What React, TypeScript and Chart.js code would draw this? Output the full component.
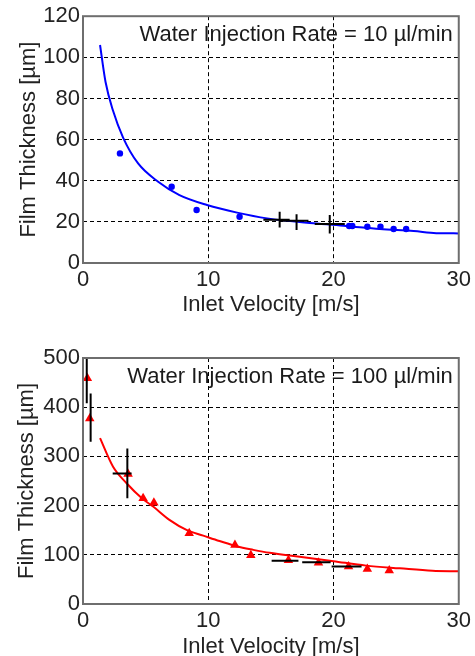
import React, { useEffect, useRef } from "react";
import { Chart, registerables } from "chart.js";
Chart.register(...registerables);

const FONT = "'Liberation Sans', Arial, Helvetica, sans-serif";

// ---------- Top panel: 10 µl/min ----------
const topLabel = "Water Injection Rate = 10 µl/min";
const topPtsX = [2.95, 7.08, 9.07, 12.5, 21.25, 21.5, 22.7, 23.75, 24.8, 25.8];
const topPtsY = [53.3, 37.1, 25.8, 22.5, 18.0, 18.0, 17.6, 17.6, 16.5, 16.5];
const topFitX = [1.36, 1.8, 2.4, 3.2, 4.4, 6.0, 7.7, 9.9, 12.3, 14.7, 18.4, 21.0, 23.7, 26.4, 28.2, 30];
const topFitY = [106, 88, 74, 61, 48.4, 39.5, 33, 28.2, 24.5, 21.7, 19.3, 18, 16.5, 15.5, 14.5, 14.4];
// vertical error bars
const topVX = [15.7, 17.05, 19.7];
const topVLo = [17.3, 16.0, 14.4];
const topVHi = [24.9, 23.7, 23.3];
// horizontal error bars
const topHY = [21, 20.5, 19];
const topHLo = [14.4, 15.7, 18.5];
const topHHi = [16.5, 18.0, 20.9];
const topYMax = 120;
const topYStep = 20;

// ---------- Bottom panel: 100 µl/min ----------
const botLabel = "Water Injection Rate = 100 µl/min";
const botPtsX = [0.35, 0.54, 3.6, 4.8, 5.66, 8.48, 12.13, 13.4, 16.4, 18.8, 21.2, 22.7, 24.45];
const botPtsY = [459, 377, 264, 215, 206, 144, 120, 99, 89, 84, 76, 71, 68];
const botFitX = [1.36, 2.4, 3.5, 4.7, 5.6, 6.9, 8.3, 9.6, 10.9, 12.3, 13.6, 14.9, 17.3, 20, 22.6, 25.3, 27.9, 30];
const botFitY = [337, 279, 245, 215, 198, 171, 150, 139, 128, 117, 110, 104, 96, 87, 78, 72.5, 67.7, 66.5];
const botVX = [0.3, 0.61, 3.54];
const botVLo = [408, 330, 215];
const botVHi = [500, 428, 316];
const botHY = [265, 88, 85, 76];
const botHLo = [2.37, 15.06, 17.5, 19.85];
const botHHi = [3.88, 17.2, 19.77, 22.24];
const botYMax = 500;
const botYStep = 100;

const xMax = 30;
const xStep = 10;

function pairs(xs: number[], ys: number[]) {
  return xs.map((x, i) => ({ x, y: ys[i] }));
}

function errSegments(vx: number[], vlo: number[], vhi: number[], hy: number[], hlo: number[], hhi: number[]) {
  const out: any[] = [];
  vx.forEach((x, i) => {
    out.push({ x, y: vlo[i] }, { x, y: vhi[i] }, { x, y: null });
  });
  hy.forEach((y, i) => {
    out.push({ x: hlo[i], y }, { x: hhi[i], y }, { x: hhi[i], y: null });
  });
  return out;
}

type PanelProps = {
  label: string;
  color: string;
  pointStyle: string;
  pointRadius: number;
  pts: { x: number; y: number }[];
  fit: { x: number; y: number }[];
  err: any[];
  yMax: number;
  yStep: number;
  padTop: number;
  xHeight: number;
  xTitlePad: number;
  xTitleLH: number;
  yTitlePad: number;
  labelOffset: number;
};

function Panel(p: PanelProps) {
  const ref = useRef<HTMLCanvasElement | null>(null);
  useEffect(() => {
    if (!ref.current) return;
    const tickFont = { family: FONT, size: 22, lineHeight: 1.2 };
    const gridColor = (max: number) => (c: any) =>
      c.tick && (c.tick.value === 0 || c.tick.value === max) ? "rgba(0,0,0,0)" : "#000";
    const frame = {
      id: "frame",
      afterDatasetsDraw(chart: any) {
        const { ctx, chartArea: a } = chart;
        ctx.save();
        ctx.strokeStyle = "#6e6e6e";
        ctx.lineWidth = 2;
        ctx.strokeRect(a.left, a.top, a.right - a.left, a.bottom - a.top);
        ctx.font = `22px ${FONT}`;
        ctx.fillStyle = "#1a1a1a";
        ctx.textAlign = "right";
        ctx.textBaseline = "middle";
        ctx.fillText(p.label, a.right - 6, a.top + p.labelOffset);
        ctx.restore();
      },
    };
    const chart = new Chart(ref.current, {
      type: "scatter",
      data: {
        datasets: [
          {
            data: p.err,
            showLine: true,
            spanGaps: false,
            borderColor: "#000",
            borderWidth: 2,
            pointRadius: 0,
          } as any,
          {
            data: p.pts,
            backgroundColor: p.color,
            borderColor: p.color,
            pointStyle: p.pointStyle as any,
            pointRadius: p.pointRadius,
            borderWidth: 0,
          },
          {
            data: p.fit,
            showLine: true,
            borderColor: p.color,
            borderWidth: 2,
            pointRadius: 0,
            cubicInterpolationMode: "monotone",
          } as any,
        ],
      },
      options: {
        animation: false,
        responsive: false,
        devicePixelRatio: 1,
        events: [],
        layout: { padding: { top: p.padTop, right: 16, left: 0, bottom: 0 } },
        plugins: { legend: { display: false }, tooltip: { enabled: false } },
        scales: {
          x: {
            type: "linear",
            min: 0,
            max: xMax,
            afterFit: (s: any) => {
              s.height = p.xHeight;
            },
            ticks: { stepSize: xStep, font: tickFont, color: "#222", padding: 4, maxRotation: 0 },
            grid: { color: gridColor(xMax), lineWidth: 1, drawTicks: false },
            border: { display: false, dash: [4, 3] },
            title: {
              display: true,
              text: "Inlet Velocity [m/s]",
              font: { family: FONT, size: 22, lineHeight: p.xTitleLH },
              color: "#222",
              padding: { top: 0, bottom: p.xTitlePad },
            },
          },
          y: {
            type: "linear",
            min: 0,
            max: p.yMax,
            afterFit: (s: any) => {
              s.width = 83;
            },
            ticks: { stepSize: p.yStep, font: tickFont, color: "#222", padding: 3 },
            grid: { color: gridColor(p.yMax), lineWidth: 1, drawTicks: false },
            border: { display: false, dash: [4, 3] },
            title: {
              display: true,
              text: "Film Thickness [µm]",
              font: tickFont,
              color: "#222",
              padding: { top: p.yTitlePad, bottom: 0 },
            },
          },
        },
      },
      plugins: [frame],
    });
    return () => chart.destroy();
  }, []);
  return <canvas ref={ref} width={475} height={328} style={{ display: "block" }} />;
}

export default function App() {
  return (
    <div
      style={{
        position: "absolute",
        left: 0,
        top: 0,
        width: 475,
        height: 656,
        background: "#fff",
        overflow: "hidden",
      }}
    >
      <Panel
        label={topLabel}
        color="#0000ff"
        pointStyle="circle"
        pointRadius={3.2}
        pts={pairs(topPtsX, topPtsY)}
        fit={pairs(topFitX, topFitY)}
        err={errSegments(topVX, topVLo, topVHi, topHY, topHLo, topHHi)}
        yMax={topYMax}
        yStep={topYStep}
        padTop={16}
        xHeight={65}
        xTitlePad={10}
        xTitleLH={1.2}
        yTitlePad={16}
        labelOffset={19}
      />
      <Panel
        label={botLabel}
        color="#ff0000"
        pointStyle="triangle"
        pointRadius={5.5}
        pts={pairs(botPtsX, botPtsY)}
        fit={pairs(botFitX, botFitY)}
        err={errSegments(botVX, botVLo, botVHi, botHY, botHLo, botHHi)}
        yMax={botYMax}
        yStep={botYStep}
        padTop={30}
        xHeight={52}
        xTitlePad={0}
        xTitleLH={0.8}
        yTitlePad={14}
        labelOffset={19}
      />
    </div>
  );
}
